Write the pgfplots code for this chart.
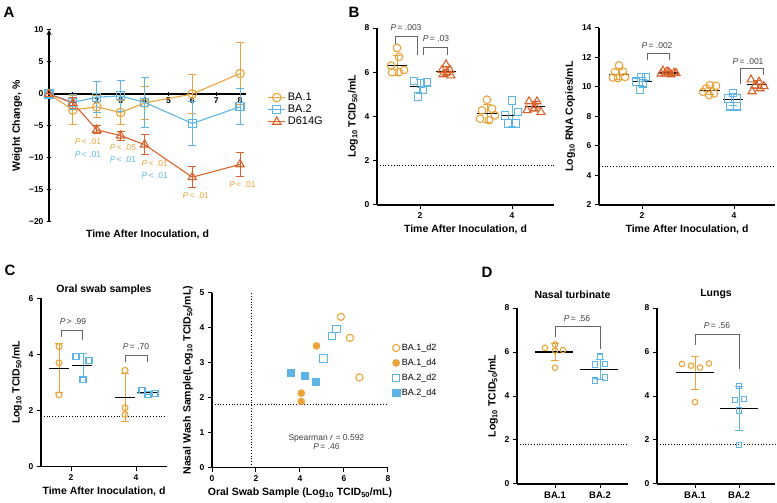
\documentclass[border=0pt]{standalone}
\usepackage{fontspec}
\setmainfont{Liberation Sans}
\usepackage{pgfplots}
\pgfplotsset{compat=1.18}
\definecolor{cO}{HTML}{EAA43B}
\definecolor{cB}{HTML}{5DB5E6}
\definecolor{cR}{HTML}{D9622B}
\newcommand{\lgt}{Log\textsubscript{10}}
\newcommand{\pv}[1]{\textit{P}\,#1}
\tikzset{pnode/.style={font=\fontsize{8.5}{9}\selectfont, text=black!75}}
\pgfplotsset{
  gp/.style={
    scale only axis, anchor=south west,
    axis x line*=bottom, axis y line*=left,
    axis line style={line width=1.3pt,-},
    every tick/.style={black, line width=1pt},
    tick align=outside, major tick length=4pt,
    tick label style={font=\bfseries\fontsize{8.5}{9}\selectfont},
    /pgf/number format/assume math mode=true,
    label style={font=\bfseries\fontsize{10.5}{12}\selectfont},
    title style={font=\bfseries\fontsize{10.5}{12}\selectfont},
    clip=false,
  },
  ebar/.style={draw=none, mark=none, forget plot,
    error bars/.cd, y dir=both, y explicit,
    error bar style={draw=#1, line width=1pt},
    error mark options={draw=#1, rotate=90, mark size=4pt, line width=1pt}},
  mline/.style={black, line width=1.2pt, forget plot},
  brk/.style={gray!80!black, line width=0.8pt, forget plot},
  lod/.style={black, dotted, line width=0.8pt, forget plot},
  mO/.style={only marks, forget plot, mark=o, mark size=3.8pt, mark options={draw=cO, line width=1.1pt}},
  mB/.style={only marks, forget plot, mark=square, mark size=3.8pt, mark options={draw=cB, line width=1.1pt}},
  mR/.style={only marks, forget plot, mark=triangle, mark size=4.6pt, mark options={draw=cR, line width=1.1pt}},
}
\begin{document}
\begin{tikzpicture}
\path[use as bounding box] (0,0) rectangle (777pt,503pt);
% panel letters
\node[font=\bfseries\fontsize{15}{15}\selectfont] at (9pt,491pt) {A};
\node[font=\bfseries\fontsize{15}{15}\selectfont] at (354pt,491pt) {B};
\node[font=\bfseries\fontsize{15}{15}\selectfont] at (10pt,233pt) {C};
\node[font=\bfseries\fontsize{15}{15}\selectfont] at (487pt,231pt) {D};

% ================= A =================
\begin{axis}[gp, at={(49pt,281pt)}, width=197pt, height=192pt,
  xmin=0, xmax=8.25, ymin=-20, ymax=10,
  axis x line=middle, axis y line=left,
  x axis line style={-}, every inner x axis line/.append style={-},
  xtick={1,...,8}, ytick={-20,-15,...,10},
  yticklabels={−20,−15,−10,−5,0,5,10},
  x tick label style={yshift=2pt},
  xlabel={Time After Inoculation, d}, ylabel={Weight Change, \%},
  xlabel style={at={(rel axis cs:0.5,0)}, anchor=north, yshift=-4pt,
    font=\bfseries\fontsize{10.5}{12}\selectfont},
  legend style={at={(axis cs:9.15,0.5)}, anchor=north west, draw=none, fill=none,
    font=\fontsize{11}{12}\selectfont, row sep=-1pt, inner sep=0pt},
  legend cell align=left,
  error bars/y dir=both, error bars/y explicit,
]
\addplot[cO, line width=1.1pt, mark=o, mark size=4.3pt,
  error bars/error bar style={line width=1pt},
  error bars/error mark options={rotate=90, mark size=4pt, line width=1pt}]
  table[x=x, y=y, y error=e] {
x y e
0 0 0
1 -2.5 2.2
2 -2.0 1.7
3 -2.9 1.9
4 -1.4 2.6
6 0.0 3.0
8 3.2 4.8
};
\addlegendentry{BA.1}
\addplot[cB, line width=1.1pt, mark=square, mark size=4pt,
  error bars/error bar style={line width=1pt},
  error bars/error mark options={rotate=90, mark size=4pt, line width=1pt}]
  table[x=x, y=y, y error=e] {
x y e
0 0 0
1 -1.3 1.2
2 -0.5 2.4
3 -0.3 2.4
4 -1.3 3.9
6 -4.6 3.5
8 -2.0 2.8
};
\addlegendentry{BA.2}
\addplot[cR, line width=1.1pt, mark=triangle, mark size=4.8pt,
  error bars/error bar style={line width=1pt},
  error bars/error mark options={rotate=90, mark size=4pt, line width=1pt}]
  table[x=x, y=y, y error=e] {
x y e
0 0 0
1 -1.4 0.8
2 -5.6 0.6
3 -6.5 0.7
4 -7.9 1.5
6 -13.0 1.6
8 -11.0 1.9
};
\addlegendentry{D614G}
\node[pnode, text=cO] at (axis cs:1.63,-7.5) {\pv{< .01}};
\node[pnode, text=cB] at (axis cs:1.63,-9.4) {\pv{< .01}};
\node[pnode, text=cO] at (axis cs:3.1,-8.3) {\pv{< .05}};
\node[pnode, text=cB] at (axis cs:3.1,-10.3) {\pv{< .01}};
\node[pnode, text=cO] at (axis cs:4.43,-10.9) {\pv{< .01}};
\node[pnode, text=cB] at (axis cs:4.43,-12.7) {\pv{< .01}};
\node[pnode, text=cO] at (axis cs:6.15,-15.8) {\pv{< .01}};
\node[pnode, text=cO] at (axis cs:8.1,-14.1) {\pv{< .01}};
\end{axis}

% ================= B left =================
\begin{axis}[gp, at={(377pt,298pt)}, width=177pt, height=177pt,
  xmin=0, xmax=177, ymin=0, ymax=8,
  xtick={43,135}, xticklabels={2,4}, ytick={0,2,...,8},
  xlabel={Time After Inoculation, d}, ylabel={\lgt{} TCID\textsubscript{50}/mL}]
\addplot[lod] coordinates {(0,1.8) (177,1.8)};
\addplot[mO] coordinates {(20,7.1) (22,6.7) (14,6.3) (15,6.0) (22,6.0) (27,6.1)};
\addplot[mB] coordinates {(37,5.6) (44,5.5) (50,5.55) (41,4.9) (46,5.2)};
\addplot[mR] coordinates {(69,6.35) (65,6.1) (73,6.1) (66,5.9) (74,5.85) (70,6.0)};
\addplot[mO] coordinates {(110,4.76) (105,4.28) (115,4.35) (103,3.9) (112,3.83) (118,4.05)};
\addplot[mB] coordinates {(135,4.73) (141,4.2) (128,4.05) (131,3.68) (139,3.68)};
\addplot[mR] coordinates {(152,4.68) (160,4.68) (157,4.35) (150,4.28) (164,4.2) (158,4.5)};
\addplot[ebar=cO] coordinates {(20,6.3) +- (0,0.45) (110,4.13) +- (0,0.4)};
\addplot[ebar=cB] coordinates {(43,5.35) +- (0,0.3) (135,4.05) +- (0,0.5)};
\addplot[ebar=cR] coordinates {(69,6.05) +- (0,0.2) (158,4.46) +- (0,0.2)};
\addplot[mline] coordinates {(10,6.3) (30,6.3)};
\addplot[mline] coordinates {(33,5.35) (53,5.35)};
\addplot[mline] coordinates {(59,6.05) (79,6.05)};
\addplot[mline] coordinates {(100,4.13) (120,4.13)};
\addplot[mline] coordinates {(125,4.05) (145,4.05)};
\addplot[mline] coordinates {(148,4.46) (168,4.46)};
\addplot[brk] coordinates {(18,7.28) (18,7.6) (40,7.6) (40,6.76)};
\addplot[brk] coordinates {(46,6.76) (46,7.13) (70,7.13) (70,6.76)};
\node[pnode] at (axis cs:29,8.0) {\pv{= .003}};
\node[pnode] at (axis cs:59,7.5) {\pv{= .03}};
\end{axis}

% ================= B right =================
\begin{axis}[gp, at={(599pt,298pt)}, width=176pt, height=177pt,
  xmin=0, xmax=176, ymin=2, ymax=14,
  xtick={43,135}, xticklabels={2,4}, ytick={2,4,...,14},
  xlabel={Time After Inoculation, d}, ylabel={\lgt{} RNA Copies/mL}]
\addplot[lod] coordinates {(0,4.65) (176,4.65)};
\addplot[mO] coordinates {(20,11.47) (16,11.02) (24,11.05) (14,10.64) (19,10.6) (26,10.68)};
\addplot[mB] coordinates {(42,10.64) (47,10.68) (37,10.35) (44,10.23) (41,9.83)};
\addplot[mR] coordinates {(64,11.1) (70,11.0) (75,10.95) (66,10.9) (72,10.85) (68,11.05) (62,10.9) (77,10.95)};
\addplot[mO] coordinates {(111,10.12) (117,10.08) (104,9.67) (115,9.56) (110,9.45) (107,9.9)};
\addplot[mB] coordinates {(134,9.6) (129,9.22) (138,9.22) (131,8.7) (138,8.7)};
\addplot[mR] coordinates {(152,10.5) (160,10.35) (156,10.1) (165,10.05) (153,9.7) (161,9.9)};
\addplot[ebar=cO] coordinates {(20,10.86) +- (0,0.35) (111,9.74) +- (0,0.25)};
\addplot[ebar=cB] coordinates {(43,10.35) +- (0,0.32) (134,9.15) +- (0,0.38)};
\addplot[ebar=cR] coordinates {(69,10.95) +- (0,0.1) (158,10.17) +- (0,0.28)};
\addplot[mline] coordinates {(10,10.86) (30,10.86)};
\addplot[mline] coordinates {(33,10.35) (53,10.35)};
\addplot[mline] coordinates {(59,10.95) (79,10.95)};
\addplot[mline] coordinates {(101,9.74) (121,9.74)};
\addplot[mline] coordinates {(124,9.15) (144,9.15)};
\addplot[mline] coordinates {(148,10.17) (168,10.17)};
\addplot[brk] coordinates {(48,11.81) (48,12.3) (70,12.3) (70,11.8)};
\addplot[brk] coordinates {(141,10.23) (141,11.25) (164,11.25) (164,10.8)};
\node[pnode] at (axis cs:58,12.83) {\pv{= .002}};
\node[pnode] at (axis cs:149,11.74) {\pv{= .001}};
\end{axis}

% ================= C left =================
\begin{axis}[gp, at={(41pt,36.3pt)}, width=126pt, height=168.4pt,
  xmin=0, xmax=126, ymin=0, ymax=6,
  xtick={30,95}, xticklabels={2,4}, ytick={0,2,4,6},
  title={Oral swab samples}, title style={yshift=-6pt},
  xlabel={Time After Inoculation, d}, ylabel={\lgt{} TCID\textsubscript{50}/mL}]
\addplot[lod] coordinates {(0,1.8) (126,1.8)};
\addplot[ebar=cO] coordinates {(18,3.51) +- (0,0.875) (84,2.46) +- (0,0.85)};
\addplot[ebar=cB] coordinates {(42,3.61) +- (0,0.44) (107,2.63) +- (0,0.06)};
\addplot[mO, mark size=3pt] coordinates {(18,4.28) (18,3.7) (18,2.56) (84,3.43) (84,2.1) (84,1.86)};
\addplot[mB, mark size=3pt] coordinates {(35,3.94) (42,3.11) (48,3.77) (101,2.7) (107,2.58) (114,2.62)};
\addplot[mline] coordinates {(8,3.51) (28,3.51)};
\addplot[mline] coordinates {(31,3.61) (51,3.61)};
\addplot[mline] coordinates {(74,2.46) (94,2.46)};
\addplot[mline] coordinates {(96,2.63) (116,2.63)};
\addplot[brk] coordinates {(20,4.63) (20,4.87) (41,4.87) (41,4.52)};
\addplot[brk] coordinates {(84,3.74) (84,3.98) (106,3.98) (106,3.74)};
\node[pnode] at (axis cs:32,5.16) {\pv{> .99}};
\node[pnode] at (axis cs:95,4.28) {\pv{= .70}};
\end{axis}

% ================= C right =================
\begin{axis}[gp, at={(212pt,35.3pt)}, width=176pt, height=175pt,
  xmin=0, xmax=8, ymin=0, ymax=5,
  xtick={0,2,...,8}, ytick={0,...,5},
  xlabel={Oral Swab Sample (\lgt{} TCID\textsubscript{50}/mL)},
  ylabel={Nasal Wash Sample(\lgt{} TCID\textsubscript{50}/mL)},
  legend style={at={(axis cs:8.2,3.6)}, anchor=north west, draw=none, fill=none,
    font=\fontsize{9}{10}\selectfont, row sep=3pt, inner sep=0pt},
  legend cell align=left]
\addplot[lod] coordinates {(0,1.8) (8,1.8)};
\addplot[lod] coordinates {(1.8,0) (1.8,5)};
\addplot[only marks, mark=o, mark size=3.6pt, mark options={draw=cO, line width=1.1pt}]
  coordinates {(5.86,4.31) (6.27,3.71) (6.7,2.58)};
\addlegendentry{BA.1\_d2}
\addplot[only marks, mark=*, mark size=3.6pt, mark options={draw=cO, fill=cO}]
  coordinates {(4.75,3.48) (4.06,2.13) (4.06,1.89)};
\addlegendentry{BA.1\_d4}
\addplot[only marks, mark=square, mark size=3.6pt, mark options={draw=cB, line width=1.1pt}]
  coordinates {(5.66,3.96) (5.45,3.77) (5.07,3.12)};
\addlegendentry{BA.2\_d2}
\addplot[only marks, mark=square*, mark size=3.6pt, mark options={draw=cB, fill=cB}]
  coordinates {(3.56,2.71) (4.21,2.63) (4.71,2.46)};
\addlegendentry{BA.2\_d4}
\node[pnode, align=center] at (axis cs:5.2,0.72) {Spearman \textit{r} = 0.592\\\pv{= .46}};
\end{axis}

% ================= D left =================
\begin{axis}[gp, at={(517pt,19pt)}, width=111pt, height=176pt,
  xmin=0, xmax=111, ymin=0, ymax=8,
  xtick={38,83}, xticklabels={BA.1,BA.2}, ytick={0,2,...,8},
  x tick label style={font=\bfseries\fontsize{9.5}{10}\selectfont},
  title={Nasal turbinate},
  ylabel={\lgt{} TCID\textsubscript{50}/mL}]
\addplot[lod] coordinates {(0,1.8) (111,1.8)};
\addplot[ebar=cO] coordinates {(38,6.0) +- (0,0.38)};
\addplot[ebar=cB] coordinates {(83,5.2) +- (0,0.45)};
\addplot[mO, mark size=2.8pt] coordinates {(28,6.19) (38,6.34) (38,6.07) (46,6.09) (38,5.28)};
\addplot[mB, mark size=2.8pt] coordinates {(83,5.78) (78,5.43) (88,5.46) (88,4.84) (78,4.69)};
\addplot[mline] coordinates {(18,6.0) (56,6.0)};
\addplot[mline] coordinates {(63,5.2) (101,5.2)};
\addplot[brk] coordinates {(38,6.66) (38,7.15) (83,7.15) (83,6.12)};
\node[pnode] at (axis cs:60,7.52) {\pv{= .56}};
\end{axis}

% ================= D right =================
\begin{axis}[gp, at={(657pt,19pt)}, width=118pt, height=176pt,
  xmin=0, xmax=118, ymin=0, ymax=8,
  xtick={38,82}, xticklabels={BA.1,BA.2}, ytick={0,2,...,8},
  x tick label style={font=\bfseries\fontsize{9.5}{10}\selectfont},
  title={Lungs}]
\addplot[lod] coordinates {(0,1.8) (118,1.8)};
\addplot[ebar=cO] coordinates {(38,5.06) +- (0,0.75)};
\addplot[ebar=cB] coordinates {(82,3.45) +- (0,1.0)};
\addplot[mO, mark size=2.8pt] coordinates {(25,5.46) (34,5.38) (43,5.29) (52,5.48) (38,3.72)};
\addplot[mB, mark size=2.8pt] coordinates {(82,4.45) (78,3.82) (87,3.87) (82,3.34) (82,1.77)};
\addplot[mline] coordinates {(19,5.06) (57,5.06)};
\addplot[mline] coordinates {(63,3.45) (101,3.45)};
\addplot[brk] coordinates {(38,6.33) (38,6.78) (82,6.78) (82,5.22)};
\node[pnode] at (axis cs:60,7.2) {\pv{= .56}};
\end{axis}
\end{tikzpicture}
\end{document}
